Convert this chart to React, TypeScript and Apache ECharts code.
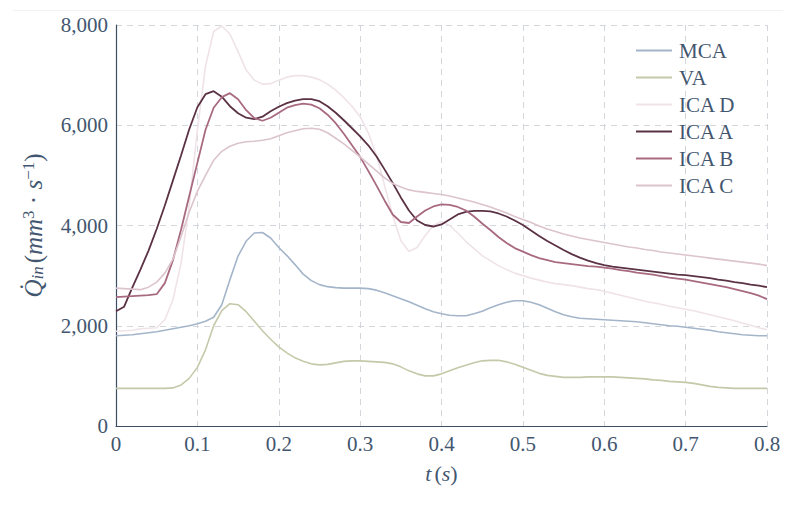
import React, { useEffect, useRef } from "react";
import * as echarts from "echarts";

const time = [
  0, 0.01, 0.02, 0.03, 0.04, 0.05, 0.06, 0.07, 0.08, 0.09,
  0.1, 0.11, 0.12, 0.13, 0.14, 0.15, 0.16, 0.17, 0.18, 0.19,
  0.2, 0.21, 0.22, 0.23, 0.24, 0.25, 0.26, 0.27, 0.28, 0.29,
  0.3, 0.31, 0.32, 0.33, 0.34, 0.35, 0.36, 0.37, 0.38, 0.39,
  0.4, 0.41, 0.42, 0.43, 0.44, 0.45, 0.46, 0.47, 0.48, 0.49,
  0.5, 0.51, 0.52, 0.53, 0.54, 0.55, 0.56, 0.57, 0.58, 0.59,
  0.6, 0.61, 0.62, 0.63, 0.64, 0.65, 0.66, 0.67, 0.68, 0.69,
  0.7, 0.71, 0.72, 0.73, 0.74, 0.75, 0.76, 0.77, 0.78, 0.79, 0.8,
];

const mca = [
  1800, 1810, 1820, 1840, 1860, 1880, 1910, 1940, 1970, 2000,
  2040, 2090, 2170, 2420, 2920, 3390, 3690, 3850, 3860, 3750,
  3560, 3400, 3220, 3030, 2900, 2820, 2780, 2760, 2750, 2750,
  2750, 2740, 2710, 2660, 2600, 2540, 2480, 2410, 2340, 2280,
  2240, 2210, 2200, 2200, 2240, 2290, 2360, 2420, 2470, 2500,
  2500, 2470, 2420, 2350, 2280, 2220, 2180, 2150, 2140, 2130,
  2120, 2110, 2100, 2090, 2080, 2060, 2040, 2020, 2000, 1990,
  1970, 1950, 1930, 1910, 1880, 1860, 1840, 1820, 1810, 1800, 1800,
];

const va = [
  750, 750, 750, 750, 750, 750, 750, 760, 820, 950,
  1170, 1520, 2000, 2300, 2440, 2420, 2280, 2090, 1900, 1730,
  1580, 1460, 1360, 1290, 1240, 1220, 1230, 1260, 1290, 1300,
  1300, 1290, 1280, 1270, 1240, 1180, 1100, 1040, 1000, 1000,
  1040, 1100, 1160, 1210, 1260, 1300, 1310, 1310, 1280, 1230,
  1170, 1110, 1050, 1010, 990, 970, 970, 970, 980, 980,
  980, 980, 970, 960, 950, 940, 920, 910, 890, 880,
  870, 850, 820, 790, 770, 760, 750, 750, 750, 750, 750,
];

const icaD = [
  1890, 1900, 1910, 1940, 1950, 1960, 2120, 2520, 3250, 4400,
  5900, 7180, 7870, 7980, 7820, 7470, 7100, 6900, 6820, 6830,
  6900, 6960, 6990, 6990, 6960, 6910, 6820, 6700, 6550, 6380,
  6170, 5850, 5400, 4800, 4200, 3700, 3480, 3560, 3800, 4000,
  4080, 4000, 3850, 3680, 3540, 3400, 3300, 3200, 3120, 3050,
  3000, 2950, 2910, 2870, 2840, 2820, 2800, 2770, 2740, 2720,
  2690, 2650, 2610, 2570, 2530, 2490, 2460, 2430, 2390, 2360,
  2330, 2300, 2260, 2220, 2180, 2140, 2100, 2050, 2010, 1960, 1920,
];

const icaA = [
  2290, 2380, 2760, 3120, 3500, 3930, 4400, 4900, 5400, 5920,
  6360, 6620, 6680, 6570, 6380, 6240, 6150, 6120, 6170, 6280,
  6370, 6440, 6490, 6520, 6520, 6480, 6380, 6250, 6100, 5940,
  5780, 5600, 5380, 5120, 4850, 4560, 4300, 4100, 4010, 3980,
  4020, 4120, 4220, 4270, 4290, 4290, 4280, 4240, 4180, 4100,
  4010, 3900, 3790, 3690, 3600, 3510, 3430, 3360, 3300, 3250,
  3210, 3180, 3160, 3140, 3120, 3100, 3080, 3060, 3040, 3020,
  3010, 2990, 2970, 2950, 2920, 2900, 2870, 2850, 2820, 2800, 2770,
];

const icaB = [
  2570, 2580, 2590, 2600, 2610, 2630, 2850, 3310, 3920, 4590,
  5250, 5910, 6350, 6560, 6640, 6520, 6300, 6140, 6090, 6150,
  6250, 6350, 6400, 6430, 6410, 6340, 6210, 6040, 5830, 5600,
  5370, 5090, 4800, 4500, 4220, 4070, 4050, 4180, 4300, 4380,
  4420, 4410, 4370, 4300, 4180, 4040, 3910, 3770, 3650, 3550,
  3480, 3410, 3350, 3310, 3270, 3250, 3230, 3210, 3190, 3180,
  3160, 3140, 3110, 3090, 3060, 3040, 3020, 2990, 2960, 2940,
  2920, 2890, 2860, 2830, 2800, 2770, 2730, 2690, 2650, 2600, 2530,
];

const icaC = [
  2750, 2740, 2730, 2720, 2770, 2870, 3050, 3330, 3780, 4270,
  4680, 5000, 5300, 5480, 5580, 5640, 5670, 5680, 5700, 5730,
  5790, 5850, 5890, 5930, 5940, 5920, 5850, 5740, 5630, 5500,
  5370, 5230, 5090, 4950, 4840, 4770, 4710, 4680, 4660, 4640,
  4620, 4590, 4550, 4510, 4470, 4420, 4370, 4310, 4250, 4180,
  4120, 4060, 3990, 3930, 3880, 3830, 3790, 3750, 3720, 3690,
  3660, 3630, 3600, 3570, 3550, 3520, 3500, 3470, 3450, 3430,
  3410, 3390, 3370, 3350, 3330, 3310, 3290, 3270, 3250, 3230, 3200,
];

const seriesNames = ["MCA", "VA", "ICA D", "ICA A", "ICA B", "ICA C"];
const seriesValues = [mca, va, icaD, icaA, icaB, icaC];
const seriesColors = ["#a4b5ca", "#c4caa9", "#efe3e7", "#5b3244", "#a86a80", "#dcc4cd"];
const seriesWidths = [1.6, 1.6, 1.6, 1.8, 1.8, 1.6];

const TEXT = "#43566f";
const FONT = "Liberation Serif";

export default function App() {
  const ref = useRef<HTMLDivElement>(null);

  useEffect(() => {
    if (!ref.current) return;
    const chart = echarts.init(ref.current, undefined, { renderer: "svg" });
    chart.setOption({
      animation: false,
      backgroundColor: "#ffffff",
      graphic: [
        {
          type: "line",
          shape: { x1: 13, y1: 10.5, x2: 783, y2: 10.5 },
          style: { stroke: "#f2f2f2", lineWidth: 1 },
          silent: true,
        },
      ],
      grid: { left: 116, right: 30, top: 25, bottom: 80, containLabel: false },
      legend: {
        orient: "vertical",
        left: 631,
        top: 35,
        padding: 5,
        itemWidth: 36,
        itemHeight: 2,
        itemGap: 6,
        icon: "rect",
        data: seriesNames,
        textStyle: {
          color: TEXT,
          fontFamily: FONT,
          fontSize: 21,
          lineHeight: 21,
          padding: [0, 0, 0, 2],
        },
      },
      xAxis: {
        type: "value",
        min: 0,
        max: 0.8,
        interval: 0.1,
        name: "{i|t} {p|(}{i|s}{p|)}",
        nameLocation: "middle",
        nameGap: 36,
        nameTextStyle: {
          fontFamily: FONT,
          rich: {
            i: { fontFamily: FONT, fontStyle: "italic", fontSize: 22, color: TEXT },
            p: { fontFamily: FONT, fontSize: 22, color: TEXT },
          },
        },
        axisLine: { show: true, lineStyle: { color: "#3d4d62", width: 1.2 } },
        axisTick: { show: false },
        axisLabel: {
          color: TEXT,
          fontFamily: FONT,
          fontSize: 21,
          margin: 7,
          formatter: (v: number) => (v === 0 ? "0" : String(Math.round(v * 10) / 10)),
        },
        splitLine: {
          show: true,
          lineStyle: { color: "#d3d7db", type: [6, 5], width: 1 },
        },
      },
      yAxis: {
        type: "value",
        min: 0,
        max: 8000,
        interval: 2000,
        name: "{q|Q̇}{sub|in} {p|(}{i|mm}{sup|3}{p| · }{i|s}{sup|−1}{p|)}",
        nameLocation: "middle",
        nameGap: 70,
        nameRotate: 90,
        nameTextStyle: {
          fontFamily: FONT,
          rich: {
            q: { fontFamily: FONT, fontStyle: "italic", fontSize: 25, color: TEXT, lineHeight: 26 },
            sub: { fontFamily: FONT, fontStyle: "italic", fontSize: 17, color: TEXT, verticalAlign: "bottom", lineHeight: 16 },
            p: { fontFamily: FONT, fontSize: 25, color: TEXT, lineHeight: 26 },
            i: { fontFamily: FONT, fontStyle: "italic", fontSize: 25, color: TEXT, lineHeight: 26 },
            sup: { fontFamily: FONT, fontSize: 17, color: TEXT, verticalAlign: "top", lineHeight: 16 },
          },
        },
        axisLine: { show: true, lineStyle: { color: "#3d4d62", width: 1.2 } },
        axisTick: { show: false },
        axisLabel: {
          color: TEXT,
          fontFamily: FONT,
          fontSize: 21,
          margin: 8,
          formatter: (v: number) => v.toLocaleString("en-US"),
        },
        splitLine: {
          show: true,
          lineStyle: { color: "#d3d7db", type: [6, 5], width: 1 },
        },
      },
      series: seriesNames.map((name, k) => ({
        name,
        type: "line",
        data: time.map((t, i) => [t, seriesValues[k][i]]),
        showSymbol: false,
        symbol: "none",
        smooth: false,
        color: seriesColors[k],
        lineStyle: { color: seriesColors[k], width: seriesWidths[k] },
        z: 2 + k,
      })),
    });
    return () => chart.dispose();
  }, []);

  return (
    <div
      ref={ref}
      style={{ position: "fixed", left: 0, top: 0, width: 797, height: 506 }}
    />
  );
}
